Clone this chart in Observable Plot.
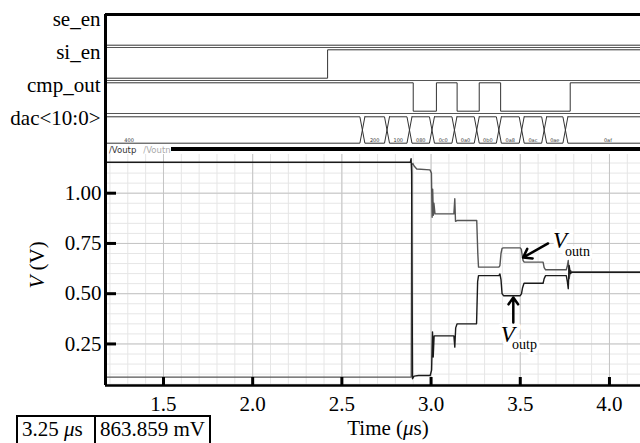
<!DOCTYPE html>
<html><head><meta charset="utf-8">
<script src="https://cdn.jsdelivr.net/npm/d3@7"></script>
<script src="https://cdn.jsdelivr.net/npm/@observablehq/plot@0.6"></script>
<style>
body{margin:0;background:#fff;}
#wrap{position:relative;width:640px;height:443px;overflow:hidden;background:#fff;font-family:"Liberation Serif","Times New Roman",serif;}
#wrap svg{font-family:"Liberation Serif","Times New Roman",serif !important;}
#top{position:absolute;left:0;top:0;}
#bot{position:absolute;left:0;top:146px;}
#legend{position:absolute;left:109px;top:145px;font:8.5px "DejaVu Sans",sans-serif;line-height:11px;white-space:nowrap;}
#legend .lp{color:#333;} #legend .ln{color:#aaa;margin-left:7px;}
#bar{position:absolute;left:171px;top:147px;width:469px;height:4px;background:#000;}
#cursor{position:absolute;left:16px;top:415px;height:40px;border:2px solid #000;border-bottom:none;display:flex;font-size:21px;line-height:24px;}
#cursor span{padding:0 4px;}
#cursor .c1{border-right:2px solid #000;width:68px;}
</style></head><body>
<div id="wrap">
<div id="top"></div>
<div id="bot"></div>
<div id="legend"><span class="lp">/Voutp</span><span class="ln">/Voutn</span></div>
<div id="bar"></div>
<div id="cursor"></div>
</div>
<script>
// ---------------- data ----------------
const rowNames = ["se_en", "si_en", "cmp_out", "dac<10:0>"];
const seEnT = [0], seEnV = [0];
const siEnT = [0, 2.42], siEnV = [0, 1];
const cmpT = [0, 2.90, 3.03, 3.146, 3.27, 3.39, 3.78];
const cmpV = [1, 0, 1, 0, 1, 0, 1];
const dacT = [0, 2.615, 2.753, 2.879, 3.005, 3.131, 3.256, 3.380, 3.508, 3.634, 3.753];
const dacCodes = ["400", "200", "100", "080", "0c0", "0a0", "0b0", "0a8", "0ac", "0ae", "0af"];
const simEnd = 4.23;

const voutpT = [1.175, 2.884, 2.888, 2.891, 2.896, 2.905, 2.930, 2.995, 3.003, 3.008, 3.012, 3.017, 3.030, 3.128, 3.133, 3.138, 3.146, 3.255, 3.261, 3.266, 3.380, 3.386, 3.392, 3.398, 3.406, 3.500, 3.507, 3.513, 3.521, 3.628, 3.634, 3.642, 3.758, 3.764, 3.769, 3.774, 3.781, 3.790, 4.174];
const voutpV = [1.154, 1.154, 1.172, 1.100, 0.077, 0.090, 0.093, 0.093, 0.120, 0.310, 0.185, 0.290, 0.290, 0.290, 0.234, 0.330, 0.350, 0.350, 0.560, 0.590, 0.590, 0.598, 0.570, 0.500, 0.490, 0.490, 0.500, 0.530, 0.552, 0.552, 0.575, 0.590, 0.590, 0.560, 0.525, 0.640, 0.600, 0.607, 0.607];
const voutnT = [1.175, 2.889, 2.892, 2.898, 2.905, 2.920, 2.994, 3.002, 3.006, 3.009, 3.013, 3.016, 3.022, 3.128, 3.133, 3.137, 3.145, 3.256, 3.262, 3.266, 3.380, 3.386, 3.392, 3.398, 3.405, 3.500, 3.506, 3.511, 3.516, 3.522, 3.628, 3.634, 3.642, 3.758, 3.764, 3.769, 3.774, 3.781, 3.790, 4.174];
const voutnV = [0.085, 0.085, 1.140, 1.148, 1.135, 1.120, 1.116, 1.100, 0.880, 1.020, 0.890, 0.950, 0.897, 0.897, 0.972, 0.860, 0.8639, 0.8639, 0.700, 0.632, 0.632, 0.640, 0.700, 0.725, 0.728, 0.728, 0.720, 0.690, 0.665, 0.657, 0.657, 0.630, 0.619, 0.619, 0.640, 0.665, 0.575, 0.615, 0.607, 0.607];

const xTicks = [1.5, 2.0, 2.5, 3.0, 3.5, 4.0];
const yTicks = [0.25, 0.50, 0.75, 1.00];
const xDomain = [1.175, 4.174];
const yDomain = [0.0433, 1.1925];

const cursorTime = "3.25";
const cursorValue = "863.859";

const annArrows = [
  {t1: 3.656, v1: 0.750, t2: 3.516, v2: 0.680},
  {t1: 3.461, v1: 0.357, t2: 3.461, v2: 0.481}
];
const annLabels = [
  {t: 3.684, v: 0.725, ts: 3.751, vs: 0.690, main: "V", sub: "outn"},
  {t: 3.391, v: 0.259, ts: 3.454, vs: 0.227, main: "V", sub: "outp"}
];

// ---------------- derived tables ----------------
const serif = "Liberation Serif";
const serifCss = "'Liberation Serif', 'Times New Roman', serif";
const hi = 0.07, lo = 0.93;
const digSignals = [[seEnT, seEnV], [siEnT, siEnV], [cmpT, cmpV]];
const stepPts = [];
digSignals.forEach(([T, V], i) => {
  T.forEach((t, j) => stepPts.push({sig: i, t, y: i + (V[j] ? hi : lo)}));
  stepPts.push({sig: i, t: simEnd, y: i + (V[V.length - 1] ? hi : lo)});
});
const busTop = 3.1, busBot = 3.9, busMid = 3.5, dd = 0.014;
const busPts = [];
const dacLabels = [];
dacT.forEach((s, i) => {
  const e = i < dacT.length - 1 ? dacT[i + 1] : simEnd;
  [[s + dd, busTop], [e - dd, busTop], [e, busMid], [e - dd, busBot], [s + dd, busBot], [s, busMid], [s + dd, busTop]]
    .forEach(([t, y]) => busPts.push({seg: i, t, y}));
  dacLabels.push({t: (s + e) / 2, code: dacCodes[i]});
});
const voutp = voutpT.map((t, i) => ({t, v: voutpV[i]}));
const voutn = voutnT.map((t, i) => ({t, v: voutnV[i]}));
const minorX = d3.range(12, 42).map(i => i / 10);
const majorX = xTicks;
const minorY = d3.range(1, 24).map(i => i * 0.05);
const majorY = yTicks;

// ---------------- top (digital) ----------------
const topPlot = Plot.plot({
  width: 640, height: 146, marginLeft: 105, marginRight: 0, marginTop: 14, marginBottom: 0,
  style: {fontFamily: serifCss, fontSize: "21px", background: "transparent", color: "#000"},
  x: {domain: xDomain, axis: null},
  y: {domain: [0, 4], reverse: true, axis: null},
  marks: [
    Plot.ruleY([1, 2, 3], {stroke: "#555", strokeWidth: 1}),
    Plot.line(stepPts, {x: "t", y: "y", z: "sig", curve: "step-after", stroke: "#333", strokeWidth: 1, clip: true}),
    Plot.line(busPts, {x: "t", y: "y", z: "seg", stroke: "#333", strokeWidth: 1, clip: true}),
    Plot.text(dacLabels, {x: "t", y: 3.8, text: "code", fontSize: 5, fontFamily: "DejaVu Sans", fill: "#333", clip: true}),
    Plot.text(rowNames, {x: xDomain[0], y: (d, i) => i, dy: 5, dx: -5, text: d => d, textAnchor: "end", lineAnchor: "middle", fontSize: 21, fontFamily: serif, fill: "#000"}),
    Plot.ruleY([0], {stroke: "#000", strokeWidth: 3}),
    Plot.ruleX([xDomain[0]], {stroke: "#000", strokeWidth: 3})
  ]
});
document.getElementById("top").append(topPlot);

// ---------------- bottom (analog) ----------------
const botPlot = Plot.plot({
  width: 640, height: 297, marginLeft: 105, marginRight: 0, marginTop: 8, marginBottom: 58,
  style: {fontFamily: serifCss, fontSize: "21px", background: "transparent", color: "#000"},
  x: {domain: xDomain},
  y: {domain: yDomain},
  marks: [
    Plot.ruleX(minorX, {stroke: "#e6e6e6", strokeWidth: 1}),
    Plot.ruleY(minorY, {stroke: "#e6e6e6", strokeWidth: 1}),
    Plot.ruleX(majorX, {stroke: "#c4c4c4", strokeWidth: 1}),
    Plot.ruleY(majorY, {stroke: "#c4c4c4", strokeWidth: 1}),
    Plot.line(voutn, {x: "t", y: "v", stroke: "#555", strokeWidth: 1.4}),
    Plot.line(voutp, {x: "t", y: "v", stroke: "#1a1a1a", strokeWidth: 1.4}),
    Plot.text(annLabels, {x: "t", y: "v", text: "main", textAnchor: "start", lineAnchor: "bottom", fontSize: 23, fontStyle: "italic", fontFamily: serif, fill: "#000", stroke: "#fff", strokeWidth: 8, paintOrder: "stroke"}),
    Plot.text(annLabels, {x: "ts", y: "vs", text: "sub", textAnchor: "start", lineAnchor: "bottom", fontSize: 14, fontFamily: serif, fill: "#000", stroke: "#fff", strokeWidth: 6, paintOrder: "stroke"}),
    Plot.arrow(annArrows, {x1: "t1", y1: "v1", x2: "t2", y2: "v2", stroke: "#000", strokeWidth: 2.5, headLength: 9, headAngle: 70}),
    Plot.tickY(yTicks, {y: d => d, stroke: "#000", strokeWidth: 3, insetRight: 535 - 11}),
    Plot.tickX(xTicks, {x: d => d, stroke: "#000", strokeWidth: 3, insetTop: 231 - 8}),
    Plot.axisX({ticks: xTicks, tickSize: 0, tickPadding: 11, tickFormat: d3.format(".1f"), fontSize: 21, fontFamily: serif, label: null}),
    Plot.axisY({ticks: yTicks, tickSize: 0, tickPadding: 4, tickFormat: d3.format(".2f"), fontSize: 21, fontFamily: serif, label: null}),
    Plot.ruleX([xDomain[0]], {stroke: "#000", strokeWidth: 3, insetTop: -8}),
    Plot.ruleY([yDomain[0]], {stroke: "#000", strokeWidth: 2.5})
  ]
});
document.getElementById("bot").append(botPlot);

// force serif font on every svg text except the tiny bus codes
d3.selectAll("#wrap svg text").style("font-family", serifCss);
d3.select(topPlot).selectAll("g[font-family='DejaVu Sans'] text").style("font-family", "'DejaVu Sans', sans-serif");

// axis titles with italic symbols
const s2 = d3.select(botPlot);
const xt = s2.append("text").attr("x", 388).attr("y", 435 - 146).attr("text-anchor", "middle")
  .style("font-family", serifCss).attr("font-size", 21).attr("fill", "#000");
xt.append("tspan").text("Time (");
xt.append("tspan").attr("font-style", "italic").text("\u03bc");
xt.append("tspan").text("s)");
const yt = s2.append("text").attr("transform", `translate(44,${265 - 146}) rotate(-90)`).attr("text-anchor", "middle")
  .style("font-family", serifCss).attr("font-size", 21).attr("fill", "#000");
yt.append("tspan").attr("font-style", "italic").text("V");
yt.append("tspan").text(" (V)");

// cursor readout
const cur = document.getElementById("cursor");
cur.innerHTML = `<span class="c1">${cursorTime} <i>\u03bc</i>s</span><span class="c2">${cursorValue} mV</span>`;
</script>
</body></html>
